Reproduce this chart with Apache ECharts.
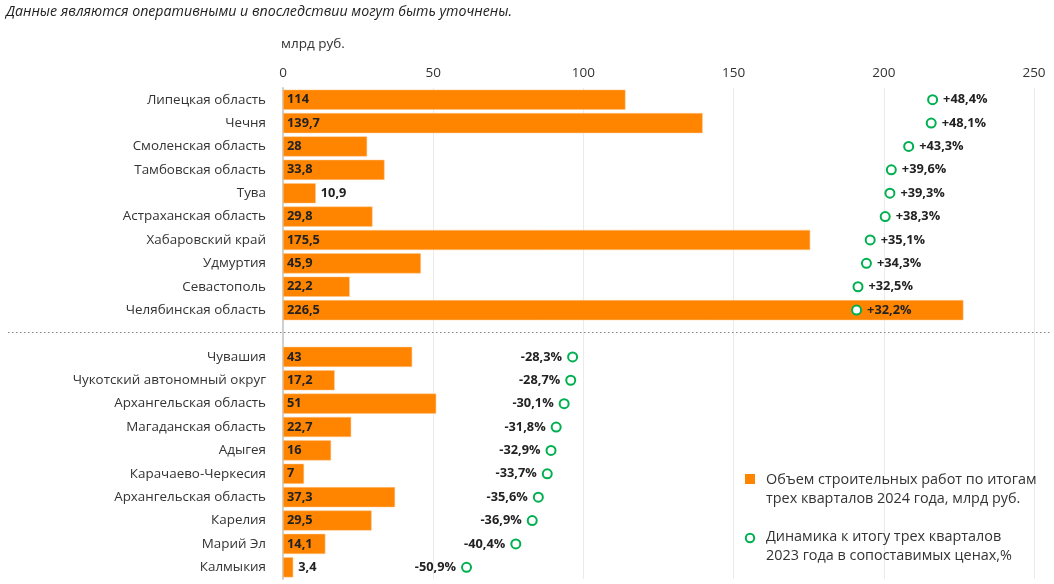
<!DOCTYPE html>
<html><head><meta charset="utf-8">
<script src="https://cdn.jsdelivr.net/npm/echarts@6/dist/echarts.min.js"></script>
<style>html,body{margin:0;padding:0;background:#fff}#c{width:1054px;height:584px}</style>
</head><body><div id="c"></div>
<script>
const topRegions = ['Липецкая область','Чечня','Смоленская область','Тамбовская область','Тува','Астраханская область','Хабаровский край','Удмуртия','Севастополь','Челябинская область'];
const topVolume = [114,139.7,28,33.8,10.9,29.8,175.5,45.9,22.2,226.5];
const topChange = [48.4,48.1,43.3,39.6,39.3,38.3,35.1,34.3,32.5,32.2];
const bottomRegions = ['Чувашия','Чукотский автономный округ','Архангельская область','Магаданская область','Адыгея','Карачаево-Черкесия','Архангельская область','Карелия','Марий Эл','Калмыкия'];
const bottomVolume = [43,17.2,51,22.7,16,7,37.3,29.5,14.1,3.4];
const bottomChange = [-28.3,-28.7,-30.1,-31.8,-32.9,-33.7,-35.6,-36.9,-40.4,-50.9];
const xTicks = [0,50,100,150,200,250];
const seriesNames = ['Объем строительных работ по итогам\nтрех кварталов 2024 года, млрд руб.','Динамика к итогу трех кварталов\n2023 года в сопоставимых ценах,%'];
const note = 'Данные являются оперативными и впоследствии могут быть уточнены.';
const unit = 'млрд руб.';

const outsideLabelIdx = new Set([4, 20]); // style: labels drawn outside short bars
const FONT = '"Open Sans", Lato, sans-serif';
const ORANGE = '#ff8400', GREEN = '#00b050', TXT = '#222';

const cats = topRegions.concat([''], bottomRegions);
const sepIdx = topRegions.length;
const volumes = topVolume.concat([null], bottomVolume);
const changes = topChange.concat([null], bottomChange);
const fmt = v => String(v).replace('.', ',');

const barData = volumes.map((v, i) => v == null ? null : {
  value: v,
  label: outsideLabelIdx.has(i) ? {position: 'right', distance: 5} : {position: 'insideLeft', distance: 4}
});
const dotData = [];
changes.forEach((p, i) => { if (p != null) dotData.push({
  value: [p, i],
  label: {position: p >= 0 ? 'right' : 'left', formatter: (p >= 0 ? '+' : '') + fmt(p) + '%'}
}); });

const chart = echarts.init(document.getElementById('c'), null, {renderer: 'canvas'});
chart.setOption({
  animation: false,
  textStyle: {fontFamily: FONT},
  grid: {left: 283, right: 20, top: 88, bottom: 5, containLabel: false},
  xAxis: [{
    type: 'value', position: 'top', min: xTicks[0], max: xTicks[xTicks.length - 1], interval: xTicks[1] - xTicks[0],
    axisLine: {show: false}, axisTick: {show: false},
    axisLabel: {color: '#333', fontSize: 13.5, margin: 8, fontFamily: FONT},
    splitLine: {lineStyle: {color: '#ebebeb', width: 1}}
  }, {
    type: 'value', min: -90, max: 70, show: false, splitLine: {show: false}
  }],
  yAxis: {
    type: 'category', data: cats, inverse: true,
    axisLine: {show: true, lineStyle: {color: '#cfcfcf', width: 2}},
    axisTick: {show: false},
    axisLabel: {color: '#333', fontSize: 13.4, margin: 17, fontFamily: FONT, interval: 0}
  },
  series: [{
    name: seriesNames[0], type: 'bar', data: barData, barCategoryGap: '14%',
    itemStyle: {color: ORANGE, borderColor: '#ffc78a', borderWidth: 0.5},
    label: {show: true, color: TXT, fontWeight: 'bold', fontSize: 12.8, fontFamily: FONT, formatter: p => fmt(p.value)},
    z: 2
  }, {
    name: seriesNames[1], type: 'scatter', xAxisIndex: 1, data: dotData,
    symbol: 'circle', symbolSize: 9,
    itemStyle: {color: '#fff', borderColor: GREEN, borderWidth: 2, opacity: 1},
    label: {show: true, color: TXT, fontWeight: 'bold', fontSize: 12.8, fontFamily: FONT, distance: 5},
    z: 5
  }]
});

const sepY = chart.convertToPixel({yAxisIndex: 0}, sepIdx);
const y0 = chart.convertToPixel({xAxisIndex: 0}, 0);
chart.setOption({
  graphic: [
    {type: 'text', left: 6, top: 5, style: {text: note, font: 'italic 14.2px ' + FONT, fill: '#222'}},
    {type: 'text', left: y0 - 2, top: 37, style: {text: unit, font: '13.5px ' + FONT, fill: '#333'}},
    {type: 'line', shape: {x1: 8, y1: sepY - 1, x2: 1050, y2: sepY - 1}, style: {stroke: '#888', lineWidth: 1, lineDash: [1.5, 2.5]}, z: 10},
    {type: 'rect', shape: {x: 745, y: 474, width: 10, height: 10}, style: {fill: ORANGE}},
    {type: 'text', left: 766, top: 470, style: {text: seriesNames[0], font: '14.4px ' + FONT, fill: '#333', lineHeight: 19}},
    {type: 'circle', shape: {cx: 750, cy: 538, r: 4.2}, style: {fill: '#fff', stroke: GREEN, lineWidth: 2}},
    {type: 'text', left: 766, top: 527, style: {text: seriesNames[1], font: '14.4px ' + FONT, fill: '#333', lineHeight: 19}}
  ]
});
</script></body></html>
